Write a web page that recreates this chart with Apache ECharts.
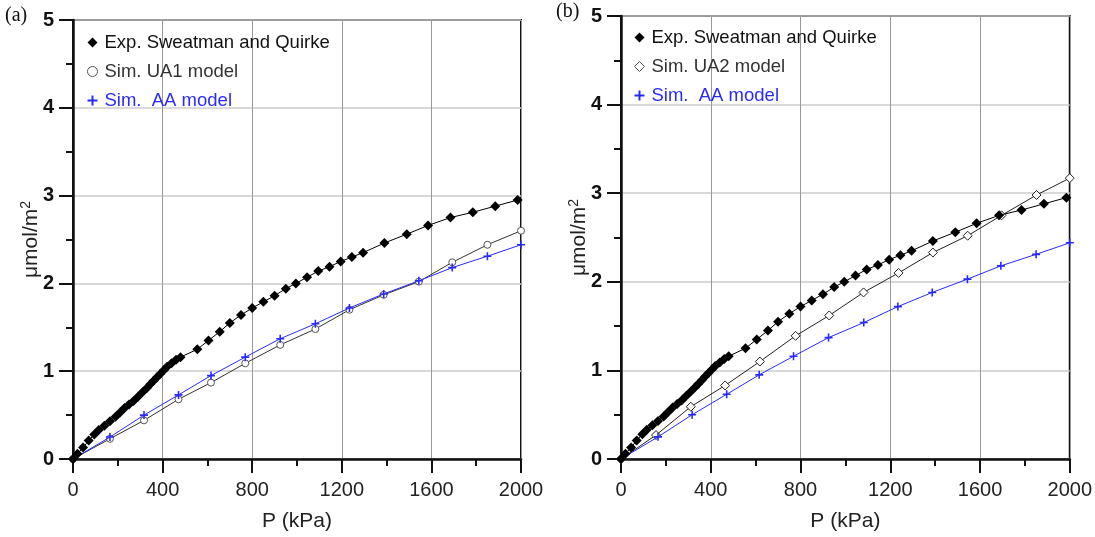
<!DOCTYPE html>
<html>
<head>
<meta charset="utf-8">
<script src="https://cdn.jsdelivr.net/npm/echarts@6/dist/echarts.min.js"></script>
<style>
html,body{margin:0;padding:0;background:#fff;}
#c{width:1095px;height:537px;}
</style>
</head>
<body>
<div id="c"></div>
<script>
// ---- data (P in kPa, values in umol/m2) ----
const expP = [0,20,45,70,95,115,140,165,190,210,230,250,270,290,310,330,345,360,375,390,405,420,440,460,480,555,605,655,700,750,800,850,900,950,995,1045,1095,1145,1195,1245,1295,1390,1490,1585,1685,1785,1885,1985];
const expV = [0,0.06,0.13,0.21,0.28,0.33,0.38,0.43,0.48,0.53,0.58,0.62,0.66,0.71,0.76,0.81,0.85,0.89,0.93,0.97,1.01,1.05,1.09,1.13,1.16,1.25,1.35,1.45,1.55,1.64,1.72,1.79,1.86,1.94,2.00,2.07,2.14,2.19,2.25,2.30,2.35,2.46,2.56,2.66,2.75,2.81,2.88,2.95];
const ua1P = [0,165,317,471,616,769,925,1082,1234,1387,1544,1693,1850,2000];
const ua1V = [0,0.23,0.44,0.68,0.87,1.09,1.30,1.48,1.70,1.87,2.02,2.24,2.44,2.60];
const aaP = [0,165,317,471,616,769,925,1082,1234,1387,1544,1693,1850,2000];
const aaV = [0,0.25,0.50,0.73,0.95,1.16,1.37,1.54,1.72,1.88,2.03,2.18,2.31,2.44];
const ua2P = [0,156,311,464,619,778,928,1081,1237,1390,1545,1696,1852,2000];
const ua2V = [0,0.27,0.59,0.83,1.10,1.39,1.62,1.88,2.10,2.33,2.52,2.75,2.98,3.17];
const xTicks = [0,400,800,1200,1600,2000];
const yTicks = [0,1,2,3,4,5];
const panelLabels = ['(a)','(b)'];
const names = {exp:'Exp. Sweatman and Quirke', ua1:'Sim. UA1 model', ua2:'Sim. UA2 model', aa:'Sim.  AA model'};

const zip = (a,b) => a.map((v,i)=>[v,b[i]]);
const PLUS = 'path://M4,0H6V4H10V6H6V10H4V6H0V4H4Z';
const BLUE = '#2a2aff';
const FONT = 'Liberation Sans, Arial';

function xAxis(gi){
  return {
    type:'value', gridIndex:gi, min:xTicks[0], max:xTicks[xTicks.length-1], interval:400,
    name:'P (kPa)', nameLocation:'middle', nameGap:52, nameMoveOverlap:false,
    nameTextStyle:{fontFamily:FONT, fontSize:21, color:'#222'},
    axisLine:{show:true, onZero:false, lineStyle:{color:'#111', width:2.5}},
    axisTick:{show:true, inside:false, length:14, lineStyle:{color:'#111', width:2}},
    minorTick:{show:true, splitNumber:2, length:7, lineStyle:{color:'#111', width:2}},
    axisLabel:{margin:21, fontFamily:FONT, fontSize:20, color:'#222', formatter:v=>String(v)},
    splitLine:{show:true, lineStyle:{color:'#999', width:1}}
  };
}
function yAxis(gi){
  return {
    type:'value', gridIndex:gi, min:yTicks[0], max:yTicks[yTicks.length-1], interval:1,
    name:'\u03bcmol/m{s|2}', nameLocation:'middle', nameGap:30, nameMoveOverlap:false,
    nameTextStyle:{fontFamily:FONT, fontSize:21, color:'#222',
      rich:{s:{fontFamily:FONT, fontSize:14, color:'#222', verticalAlign:'top', padding:[0,0,10,0]}}},
    axisLine:{show:true, onZero:false, lineStyle:{color:'#111', width:2.5}},
    axisTick:{show:true, inside:false, length:14, lineStyle:{color:'#111', width:2}},
    minorTick:{show:true, splitNumber:2, length:7, lineStyle:{color:'#111', width:2}},
    axisLabel:{margin:19, fontFamily:FONT, fontSize:20, fontWeight:'bold', color:'#111'},
    splitLine:{show:true, lineStyle:{color:'#ccc', width:1.5}}
  };
}
function expSeries(gi){
  return {type:'line', name:names.exp, xAxisIndex:gi, yAxisIndex:gi, data:zip(expP,expV),
    symbol:'diamond', symbolSize:10, showAllSymbol:true, clip:false,
    itemStyle:{color:'#000'}, lineStyle:{color:'#000', width:1}, z:5};
}
function aaSeries(gi){
  return {type:'line', name:names.aa, xAxisIndex:gi, yAxisIndex:gi, data:zip(aaP,aaV),
    symbol:PLUS, symbolSize:8, clip:false,
    itemStyle:{color:BLUE}, lineStyle:{color:BLUE, width:1}, z:4};
}
function legend(gi, left, top, simName, simIcon){
  return {
    orient:'vertical', left:left, top:top, itemGap:10, itemWidth:10, itemHeight:10,
    textStyle:{fontFamily:FONT, fontSize:18.5, color:'#111', padding:[0,0,0,2]},
    data:[
      {name:names.exp, icon:'diamond', itemStyle:{color:'#000'}},
      {name:simName, icon:simIcon, itemStyle:{color:'#fff', borderColor:'#555', borderWidth:1}, textStyle:{color:'#333'}},
      {name:names.aa, icon:PLUS, itemStyle:{color:BLUE}, textStyle:{color:BLUE}}
    ],
    selectedMode:false
  };
}

const chart = echarts.init(document.getElementById('c'), null, {renderer:'canvas'});
chart.setOption({
  animation:false,
  backgroundColor:'#fff',
  grid:[
    {left:73, top:20, width:448, height:448, show:true, borderColor:'#111', borderWidth:2, backgroundColor:'transparent'},
    {left:621, top:16, width:449, height:452, show:true, borderColor:'#111', borderWidth:2, backgroundColor:'transparent'}
  ],
  xAxis:[xAxis(0), xAxis(1)],
  yAxis:[yAxis(0), yAxis(1)],
  legend:[legend(0, 82, 28, names.ua1, 'circle'), legend(1, 629, 23, names.ua2, 'diamond')],
  graphic:[
    {type:'text', left:5, top:6, style:{text:panelLabels[0], fontFamily:'Liberation Serif, Times New Roman', fontSize:20, fill:'#111'}},
    {type:'text', left:556, top:2, style:{text:panelLabels[1], fontFamily:'Liberation Serif, Times New Roman', fontSize:20, fill:'#111'}}
  ],
  series:[
    expSeries(0),
    {type:'line', name:names.ua1, xAxisIndex:0, yAxisIndex:0, data:zip(ua1P,ua1V),
      symbol:'circle', symbolSize:7, clip:false,
      itemStyle:{color:'#fff', borderColor:'#555', borderWidth:1}, lineStyle:{color:'#333', width:1}, z:3},
    aaSeries(0),
    expSeries(1),
    {type:'line', name:names.ua2, xAxisIndex:1, yAxisIndex:1, data:zip(ua2P,ua2V),
      symbol:'diamond', symbolSize:9, clip:false,
      itemStyle:{color:'#fff', borderColor:'#222', borderWidth:1}, lineStyle:{color:'#222', width:1}, z:3},
    aaSeries(1)
  ]
});
</script>
</body>
</html>
